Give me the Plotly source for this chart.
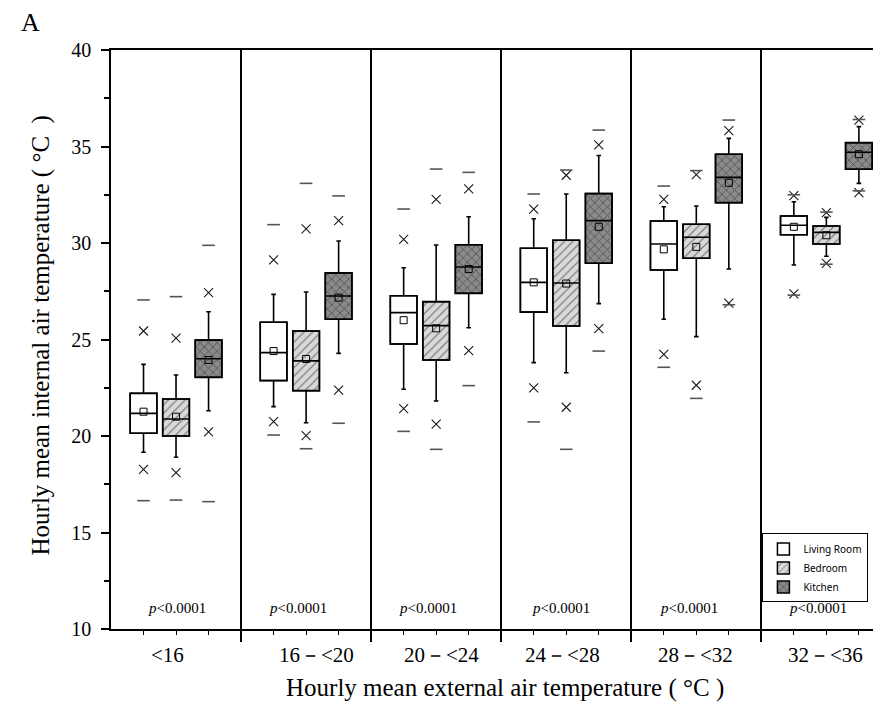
import plotly.graph_objects as go

# ---------------- data ----------------
categories = ["&lt;16", "16－&lt;20", "20－&lt;24", "24－&lt;28", "28－&lt;32", "32－&lt;36"]
rooms = ["Living Room", "Bedroom", "Kitchen"]
p_text = "<i>p</i>&lt;0.0001"

lr_q1 = [20.14, 22.87, 24.77, 26.42, 28.60, 30.43]
lr_med = [21.17, 24.32, 26.39, 27.96, 29.95, 30.92]
lr_q3 = [22.21, 25.89, 27.27, 29.73, 31.14, 31.40]
lr_wlo = [19.16, 21.52, 22.42, 23.80, 26.05, 28.86]
lr_whi = [23.71, 27.34, 28.72, 31.26, 31.88, 32.14]
lr_mean = [21.26, 24.40, 26.00, 27.96, 29.67, 30.84]
lr_xlo = [18.27, 20.74, 21.42, 22.49, 24.23, 27.36]
lr_xhi = [25.44, 29.12, 30.19, 31.76, 32.26, 32.45]
lr_min = [16.65, 20.05, 20.24, 20.73, 23.56, 27.30]
lr_max = [27.05, 30.95, 31.76, 32.54, 32.95, 32.50]

br_q1 = [20.00, 22.35, 23.94, 25.70, 29.21, 29.95]
br_med = [20.88, 23.89, 25.72, 27.93, 30.30, 30.55]
br_q3 = [21.92, 25.44, 26.96, 30.14, 30.97, 30.88]
br_wlo = [18.90, 20.69, 21.81, 23.28, 25.15, 29.31]
br_whi = [23.16, 27.46, 29.90, 32.54, 31.92, 31.33]
br_mean = [21.00, 23.99, 25.58, 27.90, 29.80, 30.40]
br_xlo = [18.10, 20.02, 20.62, 21.49, 22.63, 28.95]
br_xhi = [25.07, 30.73, 32.26, 33.51, 33.54, 31.57]
br_min = [16.68, 19.34, 19.31, 19.31, 21.95, 28.90]
br_max = [27.22, 33.09, 33.83, 33.78, 33.75, 31.60]

k_q1 = [23.04, 26.05, 27.39, 28.95, 32.09, 33.82]
k_med = [24.00, 27.25, 28.76, 31.16, 33.40, 34.70]
k_q3 = [24.97, 28.45, 29.91, 32.56, 34.60, 35.20]
k_wlo = [21.31, 24.28, 25.61, 26.86, 28.65, 33.09]
k_whi = [26.44, 30.10, 31.36, 34.53, 35.42, 36.03]
k_mean = [23.94, 27.17, 28.65, 30.84, 33.12, 34.60]
k_xlo = [20.21, 22.38, 24.42, 25.56, 26.88, 32.61]
k_xhi = [27.43, 31.16, 32.80, 35.08, 35.82, 36.37]
k_min = [16.60, 20.66, 22.61, 24.40, 26.80, 32.70]
k_max = [29.88, 32.44, 33.66, 35.85, 36.37, 36.40]

# ---------------- styling ----------------
SERIF = "Liberation Serif, Times New Roman, serif"
SANS = "Noto Sans, sans-serif"
room_offsets = [0.25, 0.5, 0.75]
box_w = 0.205
styles = [
    dict(color="white", pattern=dict(shape="")),
    dict(color="#d9d9d9", pattern=dict(shape="/", fgcolor="#222222", size=6, solidity=0.2)),
    dict(color="#8a8a8a", pattern=dict(shape="x", fgcolor="#000000", size=6, solidity=0.22)),
]
label_shift_px = [-9, 10, 5, -4, -1, -1]
p_shift_px = [1, -8, -8, -5, -7, -8]

series = [
    (lr_q1, lr_med, lr_q3, lr_wlo, lr_whi, lr_mean, lr_xlo, lr_xhi, lr_min, lr_max),
    (br_q1, br_med, br_q3, br_wlo, br_whi, br_mean, br_xlo, br_xhi, br_min, br_max),
    (k_q1, k_med, k_q3, k_wlo, k_whi, k_mean, k_xlo, k_xhi, k_min, k_max),
]

n = len(categories)
fig = go.Figure()

# box bodies (patterned) as bars
for r, (name, s) in enumerate(zip(rooms, series)):
    q1, med, q3 = s[0], s[1], s[2]
    xs = [i + room_offsets[r] for i in range(n)]
    st = styles[r]
    marker = dict(color=st["color"], line=dict(color="black", width=1.5))
    if st["pattern"]["shape"]:
        marker["pattern"] = st["pattern"]
    fig.add_trace(go.Bar(
        x=xs, y=[b - a for a, b in zip(q1, q3)], base=q1, width=box_w,
        name=name, marker=marker, showlegend=True, hoverinfo="skip",
    ))

# outlines, medians, whiskers
for r, s in enumerate(series):
    q1, med, q3, wlo, whi = s[0], s[1], s[2], s[3], s[4]
    xs = [i + room_offsets[r] for i in range(n)]
    fig.add_trace(go.Box(
        x=xs, q1=q1, median=med, q3=q3, lowerfence=wlo, upperfence=whi,
        width=box_w, whiskerwidth=0.17, fillcolor="rgba(0,0,0,0)",
        line=dict(color="black", width=1.6), boxpoints=False,
        showlegend=False, hoverinfo="skip",
    ))

# means, 1%/99% crosses, min/max dashes
for r, s in enumerate(series):
    mean, xlo, xhi, mn, mx = s[5], s[6], s[7], s[8], s[9]
    xs = [i + room_offsets[r] for i in range(n)]
    fig.add_trace(go.Scatter(
        x=xs, y=mean, mode="markers", showlegend=False, hoverinfo="skip",
        marker=dict(symbol="square-open", size=7, color="black", line=dict(width=1)),
    ))
    fig.add_trace(go.Scatter(
        x=xs + xs, y=xlo + xhi, mode="markers", showlegend=False, hoverinfo="skip",
        marker=dict(symbol="x-thin-open", size=9, color="#1a1a1a", line=dict(width=1.1, color="#1a1a1a")),
    ))
    fig.add_trace(go.Scatter(
        x=xs + xs, y=mn + mx, mode="markers", showlegend=False, hoverinfo="skip",
        marker=dict(symbol="line-ew-open", size=9, color="#555555", line=dict(width=1.6, color="#555555")),
    ))

annotations = []
for i, (cat, dx, pdx) in enumerate(zip(categories, label_shift_px, p_shift_px)):
    annotations.append(dict(
        x=i + 0.5, y=0, xref="x", yref="paper", yshift=-26, xshift=dx,
        text=cat, showarrow=False, yanchor="middle",
        font=dict(family=SERIF, size=21, color="black"),
    ))
    annotations.append(dict(
        x=i + 0.5, y=11.1, xref="x", yref="y", xshift=pdx,
        text=p_text, showarrow=False, yanchor="middle",
        font=dict(family=SERIF, size=15, color="black"),
    ))

annotations += [
    dict(x=0.5, y=0, xref="paper", yref="paper", yshift=-59, xshift=9,
         text="Hourly mean external air temperature ( °C )",
         showarrow=False, yanchor="middle", font=dict(family=SERIF, size=25, color="black")),
    dict(x=0, y=0.5, xref="paper", yref="paper", xshift=-71, yshift=4,
         text="Hourly mean internal air temperature ( °C  )",
         textangle=-90, showarrow=False, xanchor="center", yanchor="middle",
         font=dict(family=SERIF, size=25, color="black")),
    dict(x=0, y=1, xref="paper", yref="paper", xshift=-81, yshift=28, text="A",
         showarrow=False, xanchor="center", yanchor="middle",
         font=dict(family=SERIF, size=26, color="black")),
]

fig.update_layout(
    width=881, height=720,
    margin=dict(l=103, r=8, t=42, b=99),
    paper_bgcolor="white", plot_bgcolor="white",
    barmode="overlay", boxmode="overlay",
    showlegend=True,
    legend=dict(
        x=0.846, y=0.165, xanchor="left", yanchor="top",
        bordercolor="black", borderwidth=1, bgcolor="white",
        font=dict(family=SANS, size=10, color="black"),
        tracegroupgap=0, itemwidth=30,
    ),
    annotations=annotations,
    xaxis=dict(
        range=[0, 5.92], tickmode="array", tickvals=list(range(1, n)),
        showticklabels=False, ticks="outside", ticklen=11, tickwidth=1.5, tickcolor="black",
        showgrid=True, gridcolor="black", gridwidth=1.5,
        showline=True, linecolor="black", linewidth=1.5, mirror=True, zeroline=False,
        minor=dict(tickmode="array",
                   tickvals=[i + o for i in range(n) for o in room_offsets],
                   ticks="outside", ticklen=4, tickwidth=1, tickcolor="black", showgrid=False),
    ),
    yaxis=dict(
        range=[10, 40], tickmode="linear", tick0=10, dtick=5,
        ticks="outside", ticklen=8, tickwidth=1.5, tickcolor="black",
        ticklabelstandoff=6,
        tickfont=dict(family=SERIF, size=20, color="black"),
        minor=dict(dtick=2.5, ticks="outside", ticklen=5, tickwidth=1.5, tickcolor="black", showgrid=False),
        showgrid=False, showline=True, linecolor="black", linewidth=1.5, zeroline=False,
    ),
)

fig.write_html("out.html")
